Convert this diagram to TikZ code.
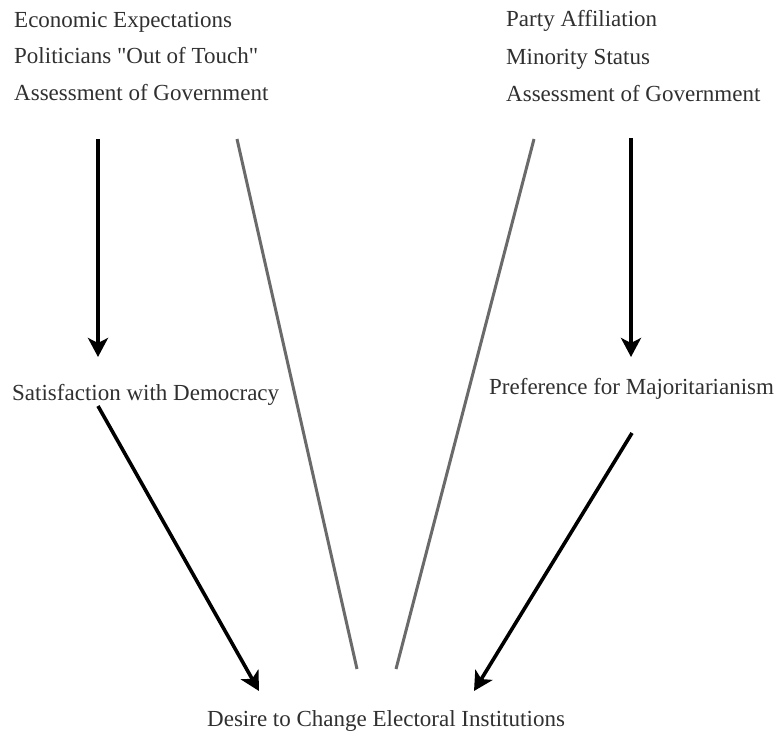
\documentclass[tikz,border=0pt]{standalone}
\usepackage{fontspec}
\newfontfamily\tnr{Liberation Serif}
\usetikzlibrary{arrows.meta}
\definecolor{txt}{HTML}{303030}
\definecolor{grayline}{HTML}{6A6A6A}
\begin{document}
\begin{tikzpicture}[x=1pt,y=-1pt,
  lbl/.style={anchor=base west,inner sep=0pt,text=txt,font=\tnr\fontsize{23}{28}\selectfont},
  arr/.style={line width=3.6pt,black,-{Stealth[length=19pt,width=20pt,inset=5pt]}},
  gline/.style={line width=3pt,grayline,line cap=butt}]
\useasboundingbox[fill=white] (0,0) rectangle (775,733);
% left top
\node[lbl] (le) at (14,28) {Economic Expectations};
\node[lbl] (lp) at (14,64) {Politicians "Out of Touch"};
\node[lbl] (la) at (14,100) {Assessment of Government};
% right top
\node[lbl] (rp) at (506,27) {Party Affiliation};
\node[lbl] (rm) at (506,65) {Minority Status};
\node[lbl] (ra) at (506,102) {Assessment of Government};
% middle
\node[lbl] (sat) at (12,400) {Satisfaction with Democracy};
\node[lbl] (pref) at (489,394) {Preference for Majoritarianism};
% bottom
\node[lbl] (des) at (207,726) {Desire to Change Electoral Institutions};
% connector ends
\coordinate (a1s) at (98,139);
\coordinate (a1e) at (98,357);
\coordinate (a2s) at (631,138);
\coordinate (a2e) at (631,357);
\coordinate (a3s) at (98,406);
\coordinate (a3e) at (259,691);
\coordinate (a4s) at (632,433);
\coordinate (a4e) at (474,691);
\coordinate (g1s) at (237,139);
\coordinate (g1e) at (357,669);
\coordinate (g2s) at (534,139);
\coordinate (g2e) at (396,669);
\draw[arr] (a1s) -- (a1e);
\draw[arr] (a2s) -- (a2e);
\draw[arr] (a3s) -- (a3e);
\draw[arr] (a4s) -- (a4e);
\draw[gline] (g1s) -- (g1e);
\draw[gline] (g2s) -- (g2e);
\end{tikzpicture}
\end{document}
